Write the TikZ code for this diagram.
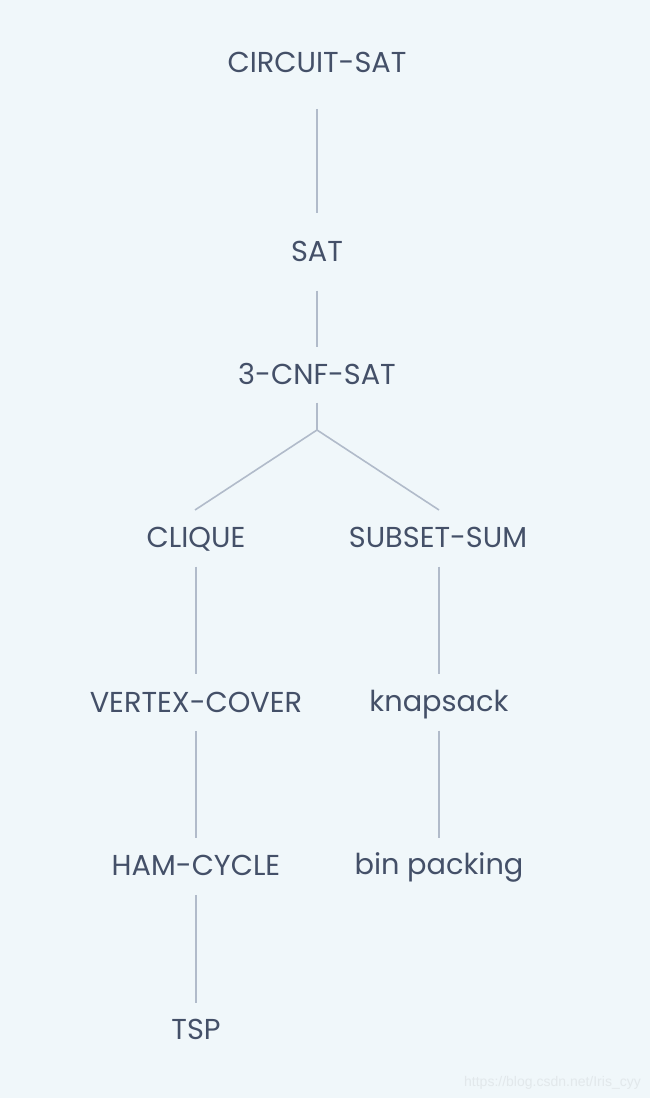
\documentclass[tikz,border=0pt]{standalone}
\usepackage{fontspec}
\setmainfont{Poppins}
\newfontfamily\wmfont{Liberation Sans}
\definecolor{bgc}{HTML}{F0F7FA}
\definecolor{txtc}{HTML}{445068}
\definecolor{linec}{HTML}{B1BBCA}
\definecolor{wmc}{HTML}{E2E8EB}
\tikzset{
  lbl/.style={anchor=base, inner sep=0pt, outer sep=0pt, text=txtc, font=\fontsize{28.8}{30}\selectfont},
  conn/.style={draw=linec, line width=1.6pt},
}
\begin{document}
\begin{tikzpicture}[x=1pt,y=1pt]
\fill[bgc] (0,0) rectangle (650,1098);
\useasboundingbox (0,0) rectangle (650,1098);
% nodes (y = 1098 - baseline)
\node[lbl] (cs)     at (317,1025.3) {CIRCUIT-SAT};
\node[lbl] (sat)    at (317,836.3)  {SAT};
\node[lbl] (cnf)    at (317,713)    {3-CNF-SAT};
\node[lbl] (clique) at (196,550)    {CLIQUE};
\node[lbl] (ss)     at (438,550)    {SUBSET-SUM};
\node[lbl] (vc)     at (196,385.3)  {VERTEX-COVER};
\node[lbl] (knap)   at (439,386)    {knapsack};
\node[lbl] (ham)    at (196,222)    {HAM-CYCLE};
\node[lbl] (bin)    at (439,223)    {bin packing};
\node[lbl] (tsp)    at (196,58)     {TSP};
\node[anchor=base east, inner sep=0pt, text=wmc, font=\wmfont\fontsize{14}{16}\selectfont] (wm) at (641,11) {https://blog.csdn.net/Iris\_cyy};
% junction and branch ends
\coordinate (j) at (317,668);
\coordinate (cltop) at (195,588);
\coordinate (sstop) at (439,588);
% connectors
\draw[conn, shorten <=36.3, shorten >=48.7] (cs.base) -- (sat.base);
\draw[conn, shorten <=29, shorten >=38.3] (sat.base) -- (cnf.base);
\draw[conn, shorten <=17.7] (cnf.base) -- (j);
\draw[conn] (j) -- (cltop);
\draw[conn] (j) -- (sstop);
\draw[conn, shorten <=18.7, shorten >=38.4] (clique.base) -- (vc.base);
\draw[conn, shorten <=18.7, shorten >=38.4] (vc.base) -- (ham.base);
\draw[conn, shorten <=19, shorten >=37.3] (ham.base) -- (tsp.base);
\draw[conn, shorten <=18.7, shorten >=38.4] ([xshift=1pt]ss.base) -- (knap.base);
\draw[conn, shorten <=18.7, shorten >=37.4] (knap.base) -- (bin.base);
\end{tikzpicture}
\end{document}
